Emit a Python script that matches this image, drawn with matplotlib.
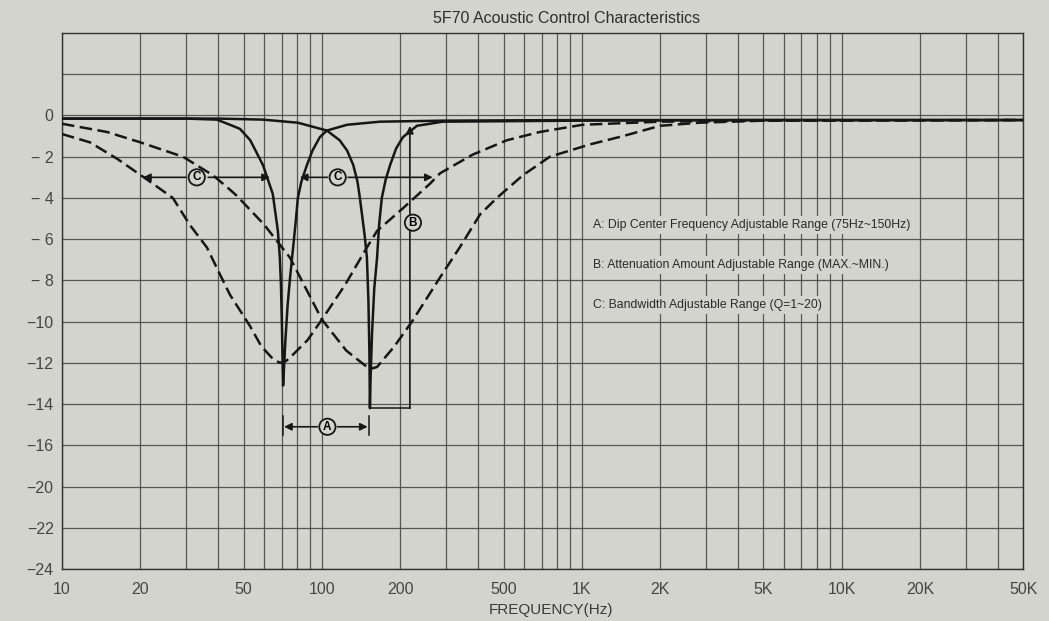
import matplotlib

matplotlib.use("Agg")
import matplotlib.pyplot as plt
from matplotlib.ticker import FixedLocator, LogLocator, NullFormatter

# ---- curves (frequency in Hz, level in dB) ----
# narrow notch, low setting (~71 Hz)
notch_lo_hz = [10, 20, 30, 39.4, 44.3, 48.4, 53, 59.3, 64.7, 67.7, 68.9, 69.6, 70.2,
               70.6, 70.9, 71.3, 72.3, 73.8, 75.5, 77.5, 79.5, 80.8, 83.4, 87.6, 92,
               98.2, 104.5, 125, 167, 292, 1000, 5000, 50000]
notch_lo_db = [-0.15, -0.15, -0.15, -0.2, -0.45, -0.65, -1.2, -2.4, -3.8, -5.6, -6.9, -8.3,
               -10.3, -12.0, -13.1, -12.5, -11.0, -9.2, -7.8, -6.4, -5.0, -4.0, -3.2, -2.4,
               -1.7, -1.05, -0.73, -0.45, -0.3, -0.25, -0.22, -0.22, -0.22]

# narrow notch, high setting (~153 Hz)
notch_hi_hz = [10, 40, 59.3, 80.8, 104.5, 117, 125, 132, 137, 140, 146, 149, 151, 152.3,
               153, 154, 156, 159, 163, 166, 170, 176, 183, 193, 205, 232, 292, 1000,
               5000, 50000]
notch_hi_db = [-0.15, -0.15, -0.2, -0.35, -0.73, -1.2, -1.7, -2.4, -3.2, -4.0, -5.8, -6.9,
               -9.0, -11.5, -14.2, -12.6, -10.5, -8.4, -6.9, -5.3, -4.0, -3.1, -2.4, -1.6,
               -1.05, -0.5, -0.3, -0.25, -0.22, -0.22]

# wide dip (Q=1), low setting
wide_lo_hz = [10, 12.8, 16.3, 21.2, 26.7, 31, 36.1, 40.5, 44.3, 52.8, 58.5, 64.7, 68.9,
              73, 77.4, 88, 100, 123, 149, 163, 205, 261, 285, 380, 515, 689, 1006,
              2000, 5000, 50000]
wide_lo_db = [-0.9, -1.3, -2.1, -3.1, -4.0, -5.3, -6.4, -7.7, -8.7, -10.2, -11.2, -11.8,
              -12.0, -11.9, -11.6, -10.9, -9.9, -8.2, -6.4, -5.6, -4.5, -3.3, -2.8, -1.9,
              -1.2, -0.8, -0.45, -0.3, -0.25, -0.22]

# wide dip (Q=1), high setting
wide_hi_hz = [10, 14.9, 20, 29.2, 38.1, 44.3, 47.1, 60, 75.4, 100, 124, 144, 153, 163,
              190, 222, 285, 339, 406, 471, 593, 753, 1076, 1440, 2000, 2840, 5000, 50000]
wide_hi_db = [-0.4, -0.8, -1.3, -2.0, -2.9, -3.6, -3.9, -5.3, -6.9, -9.9, -11.4, -12.05,
              -12.3, -12.2, -11.2, -10.0, -7.85, -6.4, -4.8, -4.0, -2.9, -2.0, -1.4, -1.0,
              -0.5, -0.35, -0.25, -0.22]

x_ticks = [10, 20, 50, 100, 200, 500, 1000, 2000, 5000, 10000, 20000, 50000]
x_tick_labels = ["10", "20", "50", "100", "200", "500", "1K", "2K", "5K", "10K", "20K", "50K"]
# the printed scale skips -18, so the last three labels sit one step up
y_tick_labels = ["0", "− 2", "− 4", "− 6", "− 8", "−10", "−12", "−14", "−16",
                 "−20", "−22", "−24"]

legend_lines = [
    "A: Dip Center Frequency Adjustable Range (75Hz~150Hz)",
    "B: Attenuation Amount Adjustable Range (MAX.~MIN.)",
    "C: Bandwidth Adjustable Range (Q=1~20)",
]

paper = "#d4d4ce"
ink = "#161616"
grid_c = "#484848"

plt.rcParams["font.family"] = ["Liberation Sans", "DejaVu Sans"]

fig = plt.figure(figsize=(10.49, 6.21), dpi=100, facecolor=paper)
ax = fig.add_axes([0.0591, 0.0837, 0.9165, 0.8631], facecolor=paper)

ax.set_xscale("log")
ax.set_xlim(10, 50000)
ax.set_ylim(-22, 4)

# grid: every 1..9 per decade, every 2 dB
ax.xaxis.set_major_locator(FixedLocator(x_ticks))
ax.xaxis.set_minor_locator(LogLocator(base=10, subs=range(1, 10), numticks=20))
ax.xaxis.set_minor_formatter(NullFormatter())
ax.set_xticklabels(x_tick_labels)
y_pos = [-2 * i for i in range(len(y_tick_labels))]
ax.set_yticks(y_pos)
ax.set_yticklabels(y_tick_labels)
ax.set_yticks([2], minor=True)
ax.grid(True, which="both", color=grid_c, lw=0.9, alpha=0.9, zorder=0)
ax.tick_params(which="both", length=0, colors="#454545", labelsize=11.5)
ax.tick_params(axis="x", pad=9)
ax.tick_params(axis="y", pad=6)
for sp in ax.spines.values():
    sp.set_color("#303030")
    sp.set_linewidth(1.0)

# curves
ax.plot(notch_lo_hz, notch_lo_db, color=ink, lw=1.8, zorder=3)
ax.plot(notch_hi_hz, notch_hi_db, color=ink, lw=1.8, zorder=3)
ax.plot(wide_lo_hz, wide_lo_db, color=ink, lw=1.8, ls=(0, (5, 2.2)), zorder=3)
ax.plot(wide_hi_hz, wide_hi_db, color=ink, lw=1.8, ls=(0, (5, 2.2)), zorder=3)

circ = dict(boxstyle="circle,pad=0.18", fc=paper, ec=ink, lw=1.3)
arrow = dict(arrowstyle="-|>", color=ink, lw=1.2, mutation_scale=11, shrinkA=0, shrinkB=0)

# C: bandwidth arrows
ax.annotate("", xy=(20.5, -3.0), xytext=(30.0, -3.0), arrowprops=arrow, zorder=4)
ax.annotate("", xy=(63.1, -3.0), xytext=(36.5, -3.0), arrowprops=arrow, zorder=4)
ax.text(33.0, -3.0, "C", ha="center", va="center", fontsize=8.5, fontweight="bold",
        bbox=circ, zorder=5)
ax.annotate("", xy=(82.2, -3.0), xytext=(105, -3.0), arrowprops=arrow, zorder=4)
ax.annotate("", xy=(267, -3.0), xytext=(126, -3.0), arrowprops=arrow, zorder=4)
ax.text(115, -3.0, "C", ha="center", va="center", fontsize=8.5, fontweight="bold",
        bbox=circ, zorder=5)

# B: attenuation bracket
ax.plot([153, 218], [-14.2, -14.2], color=ink, lw=1.1, zorder=3)
ax.annotate("", xy=(218, -0.5), xytext=(218, -14.2), arrowprops=arrow, zorder=4)
ax.text(224, -5.2, "B", ha="center", va="center", fontsize=8.5, fontweight="bold",
        bbox=circ, zorder=5)

# A: dip centre range
ax.plot([70.8, 70.8], [-14.6, -15.5], color=ink, lw=1.1, zorder=3)
ax.plot([151.5, 151.5], [-14.6, -15.5], color=ink, lw=1.1, zorder=3)
ax.annotate("", xy=(71.5, -15.1), xytext=(96, -15.1), arrowprops=arrow, zorder=4)
ax.annotate("", xy=(150, -15.1), xytext=(115, -15.1), arrowprops=arrow, zorder=4)
ax.text(105, -15.1, "A", ha="center", va="center", fontsize=8.5, fontweight="bold",
        bbox=circ, zorder=5)

for i, line in enumerate(legend_lines):
    ax.text(1100, -5.3 - 1.95 * i, line, ha="left", va="center", fontsize=8.8,
            color="#2a2a2a", zorder=5,
            bbox=dict(boxstyle="square,pad=0.25", fc=paper, ec="none"))

fig.text(0.5405, 0.971, "5F70 Acoustic Control Characteristics", ha="center",
         va="center", fontsize=11.5, color="#2e2e2e")
fig.text(0.525, 0.018, "FREQUENCY(Hz)", ha="center", va="center", fontsize=11,
         color="#3a3a3a")

fig.savefig("out.png", dpi=100, facecolor=paper)
